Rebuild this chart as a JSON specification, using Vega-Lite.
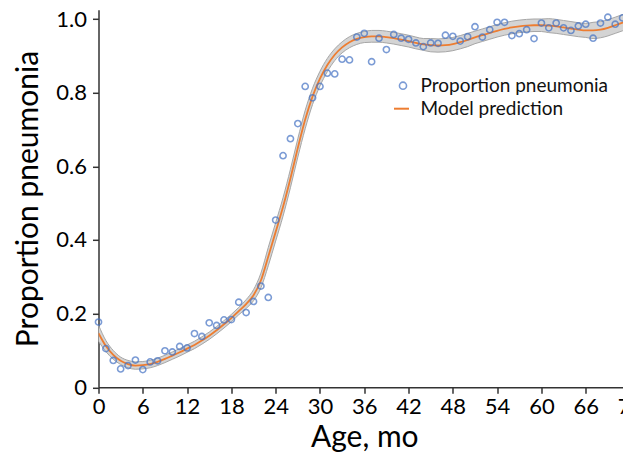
{
  "$schema": "https://vega.github.io/schema/vega-lite/v6.json",
  "width": 531.5,
  "height": 377.5,
  "autosize": {"type": "none"},
  "padding": {"left": 98.5, "top": 9.8, "right": 0, "bottom": 69},
  "background": "white",
  "config": {
    "view": {"stroke": null},
    "font": "Lato",
    "axis": {
      "grid": false,
      "domainColor": "#333333",
      "domainWidth": 1.5,
      "tickColor": "#333333",
      "tickWidth": 1.5,
      "tickSize": 6,
      "labelFont": "Lato",
      "labelFontSize": 22,
      "labelColor": "#000000",
      "titleFont": "Lato",
      "titleFontSize": 30,
      "titleFontWeight": "normal",
      "titleColor": "#000000"
    },
    "legend": {
      "labelFont": "Lato",
      "labelFontSize": 19,
      "labelColor": "#111111",
      "labelLimit": 400,
      "padding": 0,
      "title": null
    }
  },
  "datasets": {
    "obs": [
      {"age": 0, "p": 0.177}, {"age": 1, "p": 0.105}, {"age": 2, "p": 0.073}, {"age": 3, "p": 0.050},
      {"age": 4, "p": 0.059}, {"age": 5, "p": 0.074}, {"age": 6, "p": 0.048}, {"age": 7, "p": 0.069},
      {"age": 8, "p": 0.072}, {"age": 9, "p": 0.099}, {"age": 10, "p": 0.096}, {"age": 11, "p": 0.111},
      {"age": 12, "p": 0.107}, {"age": 13, "p": 0.146}, {"age": 14, "p": 0.138}, {"age": 15, "p": 0.175},
      {"age": 16, "p": 0.168}, {"age": 17, "p": 0.183}, {"age": 18, "p": 0.184}, {"age": 19, "p": 0.231},
      {"age": 20, "p": 0.203}, {"age": 21, "p": 0.233}, {"age": 22, "p": 0.275}, {"age": 23, "p": 0.244},
      {"age": 24, "p": 0.454}, {"age": 25, "p": 0.629}, {"age": 26, "p": 0.675}, {"age": 27, "p": 0.716},
      {"age": 28, "p": 0.817}, {"age": 29, "p": 0.786}, {"age": 30, "p": 0.817}, {"age": 31, "p": 0.853},
      {"age": 32, "p": 0.851}, {"age": 33, "p": 0.891}, {"age": 34, "p": 0.889}, {"age": 35, "p": 0.951},
      {"age": 36, "p": 0.961}, {"age": 37, "p": 0.884}, {"age": 38, "p": 0.948}, {"age": 39, "p": 0.917},
      {"age": 40, "p": 0.958}, {"age": 41, "p": 0.948}, {"age": 42, "p": 0.945}, {"age": 43, "p": 0.935},
      {"age": 44, "p": 0.925}, {"age": 45, "p": 0.935}, {"age": 46, "p": 0.934}, {"age": 47, "p": 0.956},
      {"age": 48, "p": 0.953}, {"age": 49, "p": 0.940}, {"age": 50, "p": 0.952}, {"age": 51, "p": 0.979},
      {"age": 52, "p": 0.951}, {"age": 53, "p": 0.971}, {"age": 54, "p": 0.991}, {"age": 55, "p": 0.991},
      {"age": 56, "p": 0.955}, {"age": 57, "p": 0.960}, {"age": 58, "p": 0.971}, {"age": 59, "p": 0.947},
      {"age": 60, "p": 0.989}, {"age": 61, "p": 0.976}, {"age": 62, "p": 0.989}, {"age": 63, "p": 0.976},
      {"age": 64, "p": 0.969}, {"age": 65, "p": 0.981}, {"age": 66, "p": 0.986}, {"age": 67, "p": 0.948},
      {"age": 68, "p": 0.989}, {"age": 69, "p": 1.005}, {"age": 70, "p": 0.986}, {"age": 71, "p": 1.003}
    ],
    "model": [
      {"age": 0, "pred": 0.147, "lo": 0.125, "hi": 0.169},
      {"age": 1, "pred": 0.112, "lo": 0.097, "hi": 0.127},
      {"age": 2, "pred": 0.088, "lo": 0.076, "hi": 0.100},
      {"age": 3, "pred": 0.072, "lo": 0.062, "hi": 0.082},
      {"age": 4, "pred": 0.063, "lo": 0.053, "hi": 0.073},
      {"age": 5, "pred": 0.059, "lo": 0.049, "hi": 0.069},
      {"age": 6, "pred": 0.060, "lo": 0.050, "hi": 0.070},
      {"age": 7, "pred": 0.063, "lo": 0.053, "hi": 0.073},
      {"age": 8, "pred": 0.069, "lo": 0.059, "hi": 0.079},
      {"age": 9, "pred": 0.077, "lo": 0.067, "hi": 0.087},
      {"age": 10, "pred": 0.086, "lo": 0.076, "hi": 0.096},
      {"age": 11, "pred": 0.095, "lo": 0.085, "hi": 0.105},
      {"age": 12, "pred": 0.105, "lo": 0.095, "hi": 0.115},
      {"age": 13, "pred": 0.115, "lo": 0.105, "hi": 0.125},
      {"age": 14, "pred": 0.127, "lo": 0.117, "hi": 0.137},
      {"age": 15, "pred": 0.140, "lo": 0.130, "hi": 0.150},
      {"age": 16, "pred": 0.155, "lo": 0.145, "hi": 0.165},
      {"age": 17, "pred": 0.171, "lo": 0.161, "hi": 0.181},
      {"age": 18, "pred": 0.188, "lo": 0.178, "hi": 0.198},
      {"age": 19, "pred": 0.207, "lo": 0.197, "hi": 0.217},
      {"age": 20, "pred": 0.226, "lo": 0.214, "hi": 0.238},
      {"age": 21, "pred": 0.250, "lo": 0.235, "hi": 0.265},
      {"age": 22, "pred": 0.290, "lo": 0.270, "hi": 0.310},
      {"age": 23, "pred": 0.355, "lo": 0.330, "hi": 0.380},
      {"age": 24, "pred": 0.422, "lo": 0.397, "hi": 0.447},
      {"age": 25, "pred": 0.490, "lo": 0.465, "hi": 0.515},
      {"age": 26, "pred": 0.567, "lo": 0.542, "hi": 0.592},
      {"age": 27, "pred": 0.650, "lo": 0.625, "hi": 0.675},
      {"age": 28, "pred": 0.727, "lo": 0.702, "hi": 0.752},
      {"age": 29, "pred": 0.790, "lo": 0.768, "hi": 0.812},
      {"age": 30, "pred": 0.838, "lo": 0.818, "hi": 0.858},
      {"age": 31, "pred": 0.875, "lo": 0.857, "hi": 0.893},
      {"age": 32, "pred": 0.903, "lo": 0.887, "hi": 0.919},
      {"age": 33, "pred": 0.923, "lo": 0.908, "hi": 0.938},
      {"age": 34, "pred": 0.937, "lo": 0.922, "hi": 0.952},
      {"age": 35, "pred": 0.946, "lo": 0.931, "hi": 0.961},
      {"age": 36, "pred": 0.951, "lo": 0.936, "hi": 0.966},
      {"age": 37, "pred": 0.953, "lo": 0.937, "hi": 0.969},
      {"age": 38, "pred": 0.953, "lo": 0.937, "hi": 0.969},
      {"age": 39, "pred": 0.951, "lo": 0.935, "hi": 0.967},
      {"age": 40, "pred": 0.948, "lo": 0.932, "hi": 0.964},
      {"age": 41, "pred": 0.944, "lo": 0.928, "hi": 0.960},
      {"age": 42, "pred": 0.940, "lo": 0.924, "hi": 0.956},
      {"age": 43, "pred": 0.935, "lo": 0.919, "hi": 0.951},
      {"age": 44, "pred": 0.931, "lo": 0.915, "hi": 0.947},
      {"age": 45, "pred": 0.929, "lo": 0.911, "hi": 0.947},
      {"age": 46, "pred": 0.928, "lo": 0.910, "hi": 0.946},
      {"age": 47, "pred": 0.929, "lo": 0.911, "hi": 0.947},
      {"age": 48, "pred": 0.932, "lo": 0.914, "hi": 0.950},
      {"age": 49, "pred": 0.937, "lo": 0.919, "hi": 0.955},
      {"age": 50, "pred": 0.943, "lo": 0.925, "hi": 0.961},
      {"age": 51, "pred": 0.950, "lo": 0.933, "hi": 0.967},
      {"age": 52, "pred": 0.956, "lo": 0.939, "hi": 0.973},
      {"age": 53, "pred": 0.962, "lo": 0.945, "hi": 0.979},
      {"age": 54, "pred": 0.968, "lo": 0.951, "hi": 0.985},
      {"age": 55, "pred": 0.973, "lo": 0.956, "hi": 0.990},
      {"age": 56, "pred": 0.977, "lo": 0.960, "hi": 0.994},
      {"age": 57, "pred": 0.980, "lo": 0.963, "hi": 0.997},
      {"age": 58, "pred": 0.982, "lo": 0.965, "hi": 0.999},
      {"age": 59, "pred": 0.983, "lo": 0.966, "hi": 1.000},
      {"age": 60, "pred": 0.983, "lo": 0.966, "hi": 1.000},
      {"age": 61, "pred": 0.982, "lo": 0.963, "hi": 1.001},
      {"age": 62, "pred": 0.980, "lo": 0.961, "hi": 0.999},
      {"age": 63, "pred": 0.977, "lo": 0.958, "hi": 0.996},
      {"age": 64, "pred": 0.974, "lo": 0.955, "hi": 0.993},
      {"age": 65, "pred": 0.971, "lo": 0.952, "hi": 0.990},
      {"age": 66, "pred": 0.969, "lo": 0.950, "hi": 0.988},
      {"age": 67, "pred": 0.969, "lo": 0.947, "hi": 0.991},
      {"age": 68, "pred": 0.971, "lo": 0.949, "hi": 0.993},
      {"age": 69, "pred": 0.976, "lo": 0.954, "hi": 0.998},
      {"age": 70, "pred": 0.983, "lo": 0.961, "hi": 1.005},
      {"age": 71, "pred": 0.990, "lo": 0.968, "hi": 1.012},
      {"age": 72, "pred": 0.997, "lo": 0.975, "hi": 1.019}
    ]
  },
  "layer": [
    {
      "data": {"name": "model"},
      "mark": {"type": "area", "interpolate": "monotone", "fill": "#d4d4d4", "stroke": "#a6a6a6", "strokeWidth": 1, "clip": true},
      "encoding": {
        "x": {"field": "age", "type": "quantitative", "scale": {"domain": [0, 72], "nice": false, "zero": false},
              "axis": {"values": [0, 6, 12, 18, 24, 30, 36, 42, 48, 54, 60, 66, 72], "title": "Age, mo", "labelPadding": 3, "titlePadding": 5, "labelFlush": false}},
        "y": {"field": "lo", "type": "quantitative", "scale": {"domain": [0, 1.025], "nice": false},
              "axis": {"values": [0, 0.2, 0.4, 0.6, 0.8, 1.0], "labelExpr": "datum.value == 0 ? '0' : format(datum.value, '.1f')", "title": "Proportion pneumonia", "labelPadding": 6, "titlePadding": 12}},
        "y2": {"field": "hi"}
      }
    },
    {
      "data": {"name": "model"},
      "mark": {"type": "line", "interpolate": "monotone", "strokeWidth": 1.8, "clip": true},
      "encoding": {
        "x": {"field": "age", "type": "quantitative"},
        "y": {"field": "pred", "type": "quantitative"},
        "stroke": {"datum": "Model prediction", "type": "nominal", "scale": {"range": ["#ED7D31"]},
                   "legend": {"orient": "none", "legendX": 293.5, "legendY": 89.4, "symbolSize": 225, "symbolStrokeWidth": 2, "labelOffset": 9.5, "symbolType": "stroke"}}
      }
    },
    {
      "data": {"name": "obs"},
      "mark": {"type": "point", "filled": false, "size": 38, "strokeWidth": 1.6, "clip": false},
      "encoding": {
        "x": {"field": "age", "type": "quantitative"},
        "y": {"field": "p", "type": "quantitative"},
        "stroke": {"datum": "Proportion pneumonia", "type": "nominal", "scale": {"range": ["#4472C4"]},
                   "legend": {"orient": "none", "legendX": 295, "legendY": 66.4, "symbolSize": 50, "symbolStrokeWidth": 1.6, "labelOffset": 8, "symbolType": "circle"}}
      }
    }
  ],
  "resolve": {"scale": {"stroke": "independent"}}
}
